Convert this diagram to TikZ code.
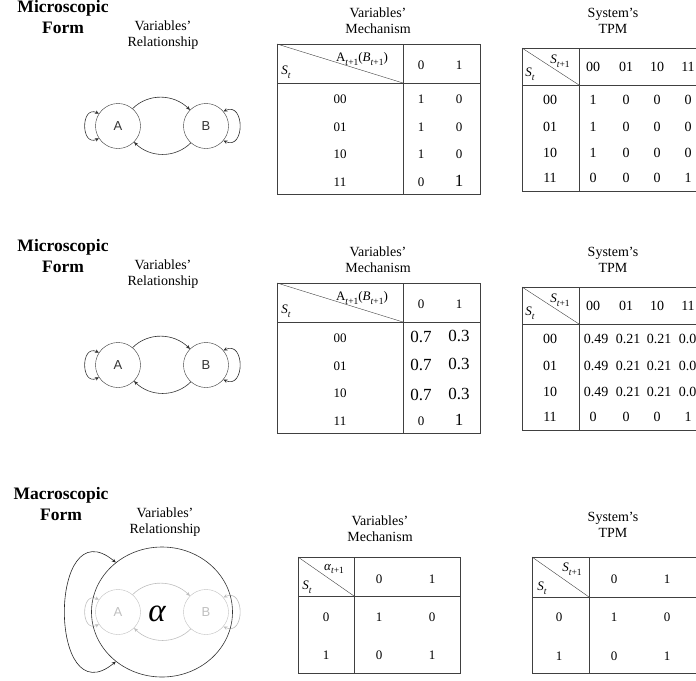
\documentclass[tikz,border=0pt]{standalone}
\usepackage{fontspec}
\setmainfont{Liberation Serif}
\setsansfont{Liberation Sans}
\usetikzlibrary{arrows.meta, positioning, shapes.geometric}
\newcommand{\subsc}[1]{\raisebox{-0.28em}{\fontsize{9.5}{10}\selectfont #1}}
\newcommand{\stvar}[2]{\textit{#1}\subsc{\textit{t}#2}}

\begin{document}
\begin{tikzpicture}[x=1pt, y=-1pt,
                title/.style={font=\fontsize{17.5}{21}\selectfont\bfseries, align=center},
                caption/.style={font=\fontsize{14}{16}\selectfont, align=center},
                cell/.style={font=\fontsize{13}{15}\selectfont, inner sep=0pt},
                tpmcell/.style={font=\fontsize{14}{16}\selectfont, inner sep=0pt},
                bigcell/.style={font=\fontsize{17}{19}\selectfont, inner sep=0pt},
                grid/.style={line width=0.9pt, black!75},
                var/.style={draw, circle, minimum size=45pt, inner sep=0pt,
                            font=\sffamily\fontsize{13}{15}\selectfont},
                link/.style={-{Stealth[length=4pt, width=3.5pt]}, semithick},
                selfloop/.style={{Stealth[length=4pt, width=3.5pt]}-{Stealth[length=4pt, width=3.5pt]}, semithick}]

                \clip (0,0) rectangle (696,680);

                % Variables' relationship - two micro graphs and the faded one
                \foreach \g/\y/\c in {1/126/black!80, 2/365/black!80, 3/612/black!25} {
                    \node[var, draw=\c, text=\c] (A\g) at (118,\y) {A};
                    \node[var, draw=\c, text=\c] (B\g) at (206,\y) {B};
                    \draw[link, \c] (A\g.50) to[out=45, in=135] (B\g.135);
                    \draw[link, \c] (B\g.-132) to[out=-135, in=-45] (A\g.-45);
                    \draw[selfloop, \c] (A\g.147) to[out=155, in=205, looseness=2.1] (A\g.213);
                    \draw[selfloop, \c] (B\g.40) to[out=25, in=-25, looseness=2.1] (B\g.-40);
                }

                % Section titles
                \node[title] (micro1) at (63,17.5) {Microscopic\\Form};
                \node[title] (micro2) at (63,256.5) {Microscopic\\Form};
                \node[title] (macro) at (61,504.5) {Macroscopic\\Form};

                \node[caption] (rel1) at (163,35) {Variables'\\Relationship};
                \node[caption] (rel2) at (163,274) {Variables'\\Relationship};
                \node[caption] (rel3) at (165,522) {Variables'\\Relationship};

                % Macro variable alpha
                \node[draw, ellipse, black!80, semithick, minimum width=141pt,
                      minimum height=130pt, inner sep=0pt] (alpha) at (162,612) {};
                \node[font=\fontsize{33}{33}\selectfont\itshape] (alphalbl) at (157,614) {α};
                \draw[selfloop, black!85] (alpha.133) to[out=140, in=220, looseness=2.3] (alpha.227);

                % Mechanism and TPM tables of both micro forms
                \foreach \k/\dy in {1/0, 2/239} {
                    \begin{scope}[shift={(0,\dy)}]
                        \node[caption] (mechcap\k) at (378,21) {Variables'\\Mechanism};
                        \draw[grid] (277,44) rectangle (480,194);
                        \draw[grid] (403,44) -- (403,194);
                        \draw[grid] (277,83) -- (480,83);
                        \draw[black!75] (277,44) -- (403,83);
                        \node[cell] (mechhead\k) at (362,59) {A\subsc{\textit{t}+1}(\stvar{B}{+1})};
                        \node[cell] (mechst\k) at (286,72) {\stvar{S}{}};
                        \node[cell] (mechc0\k) at (421,65) {0};
                        \node[cell] (mechc1\k) at (459,65) {1};
                        \foreach \s/\y [count=\i] in {00/99, 01/127, 10/154, 11/182}
                            \node[cell] (mechs\k-\i) at (340,\y) {\s};

                        \node[caption] (tpmcap\k) at (613,21) {System's\\TPM};
                        \draw[grid] (700,48) -- (522,48) -- (522,191) -- (700,191);
                        \draw[grid] (579,48) -- (579,191);
                        \draw[grid] (522,85) -- (700,85);
                        \draw[black!75] (522,48) -- (579,85);
                        \node[cell] (tpmhead\k) at (560,61) {\stvar{S}{+1}};
                        \node[cell] (tpmst\k) at (530,74) {\stvar{S}{}};
                        \foreach \s/\x [count=\j] in {00/593, 01/626, 10/657, 11/688}
                            \node[tpmcell] (tpmc\k-\j) at (\x,67) {\s};
                        \foreach \s/\y [count=\i] in {00/100, 01/127, 10/153, 11/178}
                            \node[tpmcell] (tpms\k-\i) at (550,\y) {\s};
                    \end{scope}
                }

                % Values, first micro form
                \foreach \a/\b/\y [count=\i] in {1/0/99, 1/0/127, 1/0/154} {
                    \node[cell] (mech1-\i-0) at (421,\y) {\a};
                    \node[cell] (mech1-\i-1) at (459,\y) {\b};
                }
                \node[cell] (mech1-4-0) at (421,182) {0};
                \node[bigcell] (mech1-4-1) at (459,181) {1};
                \foreach \v/\x [count=\j] in {1/593, 0/626, 0/657, 0/688} {
                    \node[tpmcell] (tpm1-1-\j) at (\x,100) {\v};
                    \node[tpmcell] (tpm1-2-\j) at (\x,127) {\v};
                    \node[tpmcell] (tpm1-3-\j) at (\x,153) {\v};
                }
                \foreach \v/\x [count=\j] in {0/593, 0/626, 0/657, 1/688}
                    \node[tpmcell] (tpm1-4-\j) at (\x,178) {\v};

                % Values, second micro form
                \foreach \y [count=\i] in {337, 365, 395} {
                    \node[bigcell] (mech2-\i-0) at (421,\y) {0.7};
                    \node[bigcell] (mech2-\i-1) at (459,\y-1) {0.3};
                }
                \node[cell] (mech2-4-0) at (421,421) {0};
                \node[bigcell] (mech2-4-1) at (459,420) {1};
                \foreach \v/\x [count=\j] in {0.49/596, 0.21/628, 0.21/659, 0.09/691} {
                    \node[tpmcell] (tpm2-1-\j) at (\x,339) {\v};
                    \node[tpmcell] (tpm2-2-\j) at (\x,366) {\v};
                    \node[tpmcell] (tpm2-3-\j) at (\x,392) {\v};
                }
                \foreach \v/\x [count=\j] in {0/593, 0/626, 0/657, 1/688}
                    \node[tpmcell] (tpm2-4-\j) at (\x,417) {\v};

                % Macro form mechanism
                \node[caption] (mechcap3) at (380,529) {Variables'\\Mechanism};
                \draw[grid] (298,557) rectangle (460,673);
                \draw[grid] (354,557) -- (354,673);
                \draw[grid] (298,596) -- (460,596);
                \draw[black!75] (298,557) -- (354,596);
                \node[cell] (mechhead3) at (334,569) {\stvar{α}{+1}};
                \node[cell] (mechst3) at (307,587) {\stvar{S}{}};
                \node[cell] (mechc03) at (379,579) {0};
                \node[cell] (mechc13) at (432,579) {1};
                \foreach \s/\a/\b/\y in {0/1/0/617, 1/0/1/655} {
                    \node[cell] (mechs3-\s) at (326,\y) {\s};
                    \node[cell] (mech3-\s-0) at (379,\y) {\a};
                    \node[cell] (mech3-\s-1) at (432,\y) {\b};
                }

                % Macro form TPM
                \node[caption] (tpmcap3) at (613,525) {System's\\TPM};
                \draw[grid] (700,557) -- (532,557) -- (532,673) -- (700,673);
                \draw[grid] (589,557) -- (589,673);
                \draw[grid] (532,597) -- (700,597);
                \draw[black!75] (532,557) -- (589,597);
                \node[cell] (tpmhead3) at (572,569) {\stvar{S}{+1}};
                \node[cell] (tpmst3) at (542,588) {\stvar{S}{}};
                \node[cell] (tpmc03) at (614,579) {0};
                \node[cell] (tpmc13) at (667,579) {1};
                \foreach \s/\a/\b/\y in {0/1/0/617, 1/0/1/656} {
                    \node[cell] (tpms3-\s) at (559,\y) {\s};
                    \node[cell] (tpm3-\s-0) at (614,\y) {\a};
                    \node[cell] (tpm3-\s-1) at (667,\y) {\b};
                }
            \end{tikzpicture}
\end{document}
